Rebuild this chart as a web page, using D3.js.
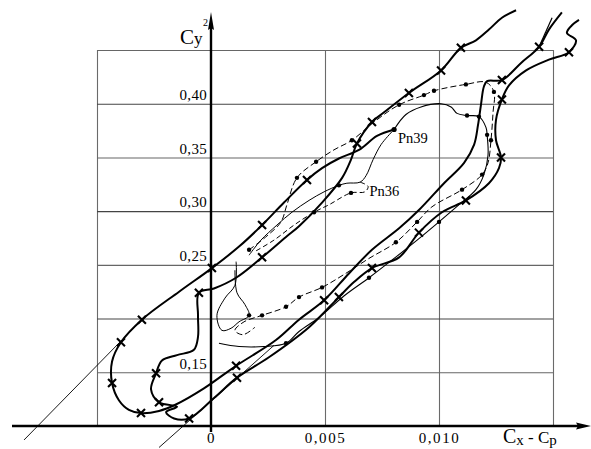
<!DOCTYPE html>
<html>
<head>
<meta charset="utf-8">
<script src="https://cdn.jsdelivr.net/npm/d3@7"></script>
<style>
  html, body { margin: 0; padding: 0; background: #fff; }
  svg { display: block; }
  text { font-family: "Liberation Serif", "DejaVu Serif", serif; fill: #000; }
</style>
</head>
<body>
<div id="chart"></div>
<script>
const W = 591, H = 449;

// x values are Cx - Cp in units of 0.001, y values are Cy^2
const xGrid = [-5, 0, 5, 10, 15];
const yGrid = [0.10, 0.15, 0.20, 0.25, 0.30, 0.35, 0.40, 0.45];
const xTicks = [0, 5, 10];
const xTickLabels = ["0", "0,005", "0,010"];
const yTicks = [0.15, 0.25, 0.30, 0.35, 0.40];
const yTickLabels = ["0,15", "0,25", "0,30", "0,35", "0,40"];

// [x, y, marker]
const loopA = [
  [8.03,.376,0],[7.28,.370,0],[6.49,.357,0],[5.61,.349,0],[4.87,.340,0],[4.21,.329,1],
  [3.20,.308,0],[2.24,.287,1],[1.23,.267,0],[0.04,.247,1],[-1.40,.225,0],[-3.03,.199,1],
  [-3.95,.178,1],[-4.34,.160,0],[-4.34,.140,1],[-4.04,.124,0],[-3.60,.115,0],[-3.07,.112,1],
  [-2.28,.114,0],[-1.54,.120,0],[-0.31,.135,0],[1.10,.156,1],[2.85,.180,0],[3.86,.199,0],
  [4.96,.217,1],[6.05,.242,0],[7.06,.264,0],[8.25,.284,0],[9.12,.301,0],[10.22,.326,0],
  [11.10,.345,0],[11.54,.362,0],[11.71,.380,0],[11.84,.399,0],[11.97,.416,0],[12.11,.421,0],
  [12.76,.422,1],[13.60,.438,0],[14.39,.453,1],[14.82,.469,0],[15.39,.485,0]
];
const loopB = [
  [13.38,.487,0],[12.76,.480,0],[12.19,.469,0],[11.62,.459,0],[10.96,.452,1],[10.09,.431,1],
  [8.68,.410,1],[7.59,.392,0],[7.06,.383,1],[6.40,.363,1],[6.14,.348,0],[5.75,.331,0],
  [4.87,.308,0],[3.86,.286,0],[3.29,.276,0],[2.24,.257,1],[1.10,.238,0],[0.13,.228,0],
  [-0.53,.224,1],[-0.57,.203,0],[-0.57,.183,0],[-0.75,.171,0],[-1.49,.166,0],[-2.15,.161,0],
  [-2.41,.149,1],[-2.63,.134,0],[-2.28,.122,1],[-1.49,.118,0],[-1.97,.113,0],[-1.62,.107,0],
  [-0.96,.107,1],[0.13,.126,0],[1.14,.145,1],[2.54,.164,0],[4.30,.192,0],[5.61,.220,1],
  [6.27,.234,0],[7.06,.247,1],[8.25,.257,0],[9.12,.280,1],[10.13,.299,0],[11.18,.310,1],
  [12.19,.326,0],[12.63,.340,0],[12.72,.350,1],[12.50,.366,0],[12.50,.385,0],[12.76,.404,1],
  [13.07,.417,0],[13.82,.431,0],[14.82,.441,0],[15.70,.448,1],[16.01,.459,0],[15.61,.466,0],
  [15.83,.473,0],[16.14,.478,0]
];
const pn39Thin = [
  [8.03,.376,0],[8.55,.390,0],[9.21,.397,0],[10.09,.400,0],[10.53,.397,0],[10.79,.391,0],
  [11.23,.389,1],[11.75,.388,1],[12.06,.378,0],[12.11,.371,1],[12.15,.352,0],[11.97,.334,0],
  [11.62,.320,0],[10.88,.306,0],[10.00,.290,1],[9.04,.273,0],[8.03,.256,0],[6.93,.238,1],
  [5.83,.221,0],[4.74,.201,0],[3.86,.188,0],[3.29,.177,1],[2.32,.174,0],[1.23,.174,0],[0.35,.177,0]
];
const pn36Thin = [
  [7.94,.374,0],[7.46,.362,0],[7.11,.348,0],[6.80,.333,0],[6.54,.327,0],[5.96,.326,0],
  [5.61,.324,1],[4.96,.318,0],[4.30,.310,0],[3.55,.299,0],[2.89,.287,0],[2.19,.273,0],[1.67,.259,0]
];
const pn36Dash = [
  [6.54,.327,0],[6.89,.323,0],[6.75,.318,0],[6.14,.317,1],[5.18,.306,0],[4.52,.299,1],
  [3.64,.287,0],[2.76,.273,0],[1.89,.262,0]
];
const bigDash = [
  [1.67,.264,1],[2.46,.277,0],[3.07,.290,0],[3.33,.306,0],[3.77,.331,1],[4.61,.346,1],
  [5.39,.357,0],[6.18,.366,1],[7.15,.383,0],[8.25,.399,1],[9.34,.408,1],[9.78,.412,1],
  [11.18,.418,1],[12.06,.420,0],[12.41,.411,1],[12.37,.392,0],[12.28,.366,1],[12.15,.345,0],
  [11.89,.334,1],[11.01,.320,1],[9.69,.304,0],[9.04,.290,1],[8.11,.271,1],[6.93,.256,0],
  [5.83,.241,0],[4.87,.229,1],[3.86,.220,1],[3.29,.211,1],[2.24,.203,1],[1.45,.197,0],
  [1.05,.189,0],[1.40,.185,0],[1.93,.192,0]
];
const teardrop = [
  [1.10,.253,0],[1.05,.231,0],[0.61,.219,0],[0.26,.203,0],[0.48,.189,0],[0.88,.191,0],
  [1.23,.197,0],[1.67,.203,1],[1.49,.213,0],[1.14,.224,0],[1.05,.245,0]
];
const guideLeft = [[-8.20,.087,0],[-3.03,.199,0]];
const guideLow = [[-2.28,.080,0],[2.76,.175,0]];
const guideTop = [[14.39,.453,0],[14.96,.480,0]];

const x = d3.scaleLinear().domain([-5, 15]).range([97, 553]);
const y = d3.scaleLinear().domain([0.10, 0.45]).range([426, 50]);

const svg = d3.select("#chart").append("svg")
  .attr("width", W).attr("height", H).attr("viewBox", `0 0 ${W} ${H}`);

// grid
const gGrid = svg.append("g");
gGrid.append("g").attr("transform", `translate(0,${y(0.10)})`)
  .call(d3.axisBottom(x).tickValues(xGrid.filter(v => v !== 0)).tickSize(-(y(0.10) - y(0.45))).tickFormat(""))
  .call(g => g.select(".domain").remove())
  .call(g => g.selectAll("line").attr("stroke", "#6a6a6a").attr("stroke-width", 1.1));
gGrid.append("g").attr("transform", `translate(${x(-5)},0)`)
  .call(d3.axisLeft(y).tickValues(yGrid.slice(1)).tickSize(-(x(15) - x(-5))).tickFormat(""))
  .call(g => g.select(".domain").remove())
  .call(g => g.selectAll("line").attr("stroke", (d, i) => i % 2 ? "#444" : "#666").attr("stroke-width", 1.1));

// curves
const line = d3.line().x(d => x(d[0])).y(d => y(d[1])).curve(d3.curveCatmullRom.alpha(0.5));
const series = [
  { pts: guideLeft, w: 0.9, dash: null, mark: null },
  { pts: guideLow, w: 0.9, dash: null, mark: null },
  { pts: guideTop, w: 1.2, dash: null, mark: null },
  { pts: teardrop, w: 1, dash: null, mark: "dot" },
  { pts: pn36Thin, w: 1, dash: null, mark: "dot" },
  { pts: pn36Dash, w: 1, dash: "5,3", mark: "dot" },
  { pts: bigDash, w: 1, dash: "6,3", mark: "dot" },
  { pts: pn39Thin, w: 1.1, dash: null, mark: "dot" },
  { pts: loopB, w: 2, dash: null, mark: "x" },
  { pts: loopA, w: 2, dash: null, mark: "x" }
];
const gCurves = svg.append("g");
series.forEach(s => {
  gCurves.append("path").attr("d", line(s.pts)).attr("fill", "none")
    .attr("stroke", "#000").attr("stroke-width", s.w)
    .attr("stroke-dasharray", s.dash).attr("stroke-linejoin", "round");
  const m = s.pts.filter(d => d[2]);
  if (s.mark === "dot") {
    gCurves.selectAll(null).data(m).join("circle")
      .attr("cx", d => x(d[0])).attr("cy", d => y(d[1])).attr("r", 2.2).attr("fill", "#000");
  } else if (s.mark === "x") {
    gCurves.selectAll(null).data(m).join("path")
      .attr("transform", d => `translate(${x(d[0])},${y(d[1])})`)
      .attr("d", "M-4,-4L4,4M-4,4L4,-4")
      .attr("stroke", "#000").attr("stroke-width", 2.1).attr("fill", "none");
  }
});
// end dot of Pn39 thick line
gCurves.append("circle").attr("cx", x(loopA[0][0])).attr("cy", y(loopA[0][1])).attr("r", 2.6).attr("fill", "#000");

// axes
const gAx = svg.append("g");
gAx.append("line").attr("x1", 12).attr("x2", 582).attr("y1", y(0.10)).attr("y2", y(0.10))
  .attr("stroke", "#000").attr("stroke-width", 2.6);
gAx.append("path").attr("d", `M591,${y(0.10)}L576,${y(0.10) - 3.5}L578,${y(0.10)}L576,${y(0.10) + 3.5}Z`).attr("fill", "#000");
gAx.append("line").attr("x1", x(0)).attr("x2", x(0)).attr("y1", 432).attr("y2", 24)
  .attr("stroke", "#000").attr("stroke-width", 2.4);
gAx.append("path").attr("d", `M${x(0)},12L${x(0) - 3},30L${x(0)},28L${x(0) + 3},30Z`).attr("fill", "#000");

// tick labels
gAx.append("g").attr("transform", `translate(${x(0)},0)`)
  .call(d3.axisLeft(y).tickValues(yTicks).tickSize(0).tickPadding(4).tickFormat((d, i) => yTickLabels[i]))
  .call(g => g.select(".domain").remove())
  .call(g => g.selectAll("text").attr("dy", "-0.28em")
    .style("font-size", "15px").style("letter-spacing", "0.3px"));
gAx.append("g").attr("transform", `translate(0,${y(0.10)})`)
  .call(d3.axisBottom(x).tickValues(xTicks).tickSize(0).tickPadding(6).tickFormat((d, i) => xTickLabels[i]))
  .call(g => g.select(".domain").remove())
  .call(g => g.selectAll("text").style("font-size", "15px").style("letter-spacing", "1.6px"));

// titles
const ty = svg.append("text").attr("x", 180).attr("y", 44).style("font-size", "21px");
ty.append("tspan").text("C");
ty.append("tspan").style("font-size", "17px").text("y");
svg.append("text").attr("x", 203).attr("y", 26).style("font-size", "10px").text("2");

const tx = svg.append("text").attr("x", 503).attr("y", 443).style("font-size", "20px");
tx.append("tspan").text("C");
tx.append("tspan").style("font-size", "15px").attr("dy", 2).text("x");
tx.append("tspan").style("font-size", "17px").attr("dy", -2).text(" - C");
tx.append("tspan").style("font-size", "15px").attr("dy", 2).text("p");

// curve labels
svg.append("text").attr("x", x(8.2)).attr("y", y(0.363)).style("font-size", "14.5px").text("Pn39");
svg.append("text").attr("x", x(6.95)).attr("y", y(0.314)).style("font-size", "14.5px").text("Pn36");
</script>
</body>
</html>
